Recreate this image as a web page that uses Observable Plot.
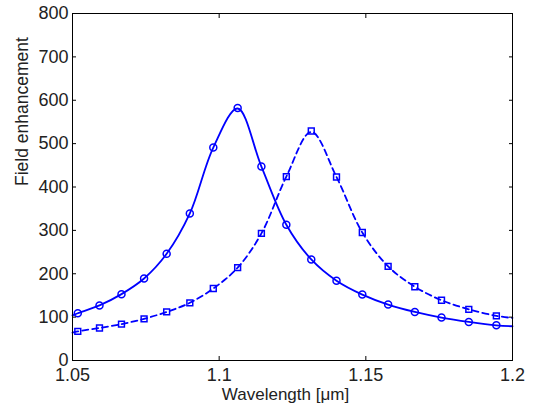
<!DOCTYPE html>
<html><head><meta charset="utf-8">
<script src="https://cdn.jsdelivr.net/npm/d3@7"></script>
<script src="https://cdn.jsdelivr.net/npm/@observablehq/plot@0.6"></script>
<style>body{margin:0;background:#fff}</style>
</head><body><div id="chart"></div>
<script>
// Marker (simulation) points
const markerWl = [1.0518,1.0592,1.0667,1.0744,1.0821,1.0900,1.0980,1.1063,1.1144,1.1229,1.1314,1.1400,1.1488,1.1576,1.1667,1.1758,1.1851,1.1945];
const circleValues = [109,127,153,189,246,339,491,582,447,313,233,184,152,129,112,99,89,81];
const squareValues = [67,75,84,96,112,133,166,214,293,424,529,423,295,217,170,139,118,103];
// Fitted curves
const lineWl = [1.05,1.0518,1.0592,1.0667,1.0744,1.0821,1.0900,1.0980,1.1063,1.1144,1.1229,1.1314,1.1400,1.1488,1.1576,1.1667,1.1758,1.1851,1.1945,1.2];
const solidLine = [104,109,127,153,189,246,339,491,581,447,313,233,184,152,129,112,99,89,81,79];
const dashedLine = [64,67,75,84,96,112,133,166,214,293,424,527,423,295,217,170,139,118,103,98];
const xTicks = [1.05,1.1,1.15,1.2];
const xTickLabels = ["1.05","1.1","1.15","1.2"];
const yTicks = [0,100,200,300,400,500,600,700,800];
const xLabel = "Wavelength [\u03bcm]";
const yLabel = "Field enhancement";

const markers = markerWl.map((x,i)=>({x, c: circleValues[i], s: squareValues[i]}));
const lines = lineWl.map((x,i)=>({x, a: solidLine[i], b: dashedLine[i]}));
const blue = "#0000ff";

const chart = Plot.plot({
  width: 533, height: 409,
  marginLeft: 72, marginRight: 21, marginTop: 13, marginBottom: 49,
  style: {fontFamily: "'Liberation Sans', Arial, Helvetica, sans-serif", background: "white", color: "#222"},
  x: {domain: [1.05, 1.2]},
  y: {domain: [0, 800]},
  marks: [
    Plot.line(lines, {x: "x", y: "a", stroke: blue, strokeWidth: 1.8, curve: "catmull-rom"}),
    Plot.line(lines, {x: "x", y: "b", stroke: blue, strokeWidth: 1.8, strokeDasharray: "6,4", curve: "catmull-rom"}),
    Plot.dot(markers, {x: "x", y: "c", symbol: "circle", r: 3.5, stroke: blue, strokeWidth: 1.5, fill: "none"}),
    Plot.dot(markers, {x: "x", y: "s", symbol: "square", r: 3.3, stroke: blue, strokeWidth: 1.5, fill: "none"}),
    Plot.frame({stroke: "#000", strokeWidth: 1}),
    Plot.axisX({ticks: xTicks, tickSize: 0, tickPadding: 8, fontSize: 18, label: null, tickFormat: (d,i)=>xTickLabels[xTicks.indexOf(d)]}),
    Plot.axisX({ticks: xTicks, tickSize: -4, tickFormat: ()=>"", label: null, stroke: "#000"}),
    Plot.axisX({anchor: "top", ticks: xTicks, tickSize: -4, tickFormat: ()=>"", label: null, stroke: "#000"}),
    Plot.axisY({ticks: yTicks, tickSize: 0, tickPadding: 4, fontSize: 18, label: null}),
    Plot.axisY({ticks: yTicks, tickSize: -4, tickFormat: ()=>"", label: null, stroke: "#000"}),
    Plot.axisY({anchor: "right", ticks: yTicks, tickSize: -4, tickFormat: ()=>"", label: null, stroke: "#000"}),
    Plot.text([xLabel], {frameAnchor: "bottom", text: d=>d, dy: 39, dx: -7, lineAnchor: "bottom", fontSize: 17, fill: "#222"}),
    Plot.text([yLabel], {frameAnchor: "left", text: d=>d, rotate: -90, dx: -45, dy: -1, lineAnchor: "bottom", fontSize: 17.5, fill: "#222"})
  ]
});
document.getElementById("chart").appendChild(chart);
</script>
</body></html>
